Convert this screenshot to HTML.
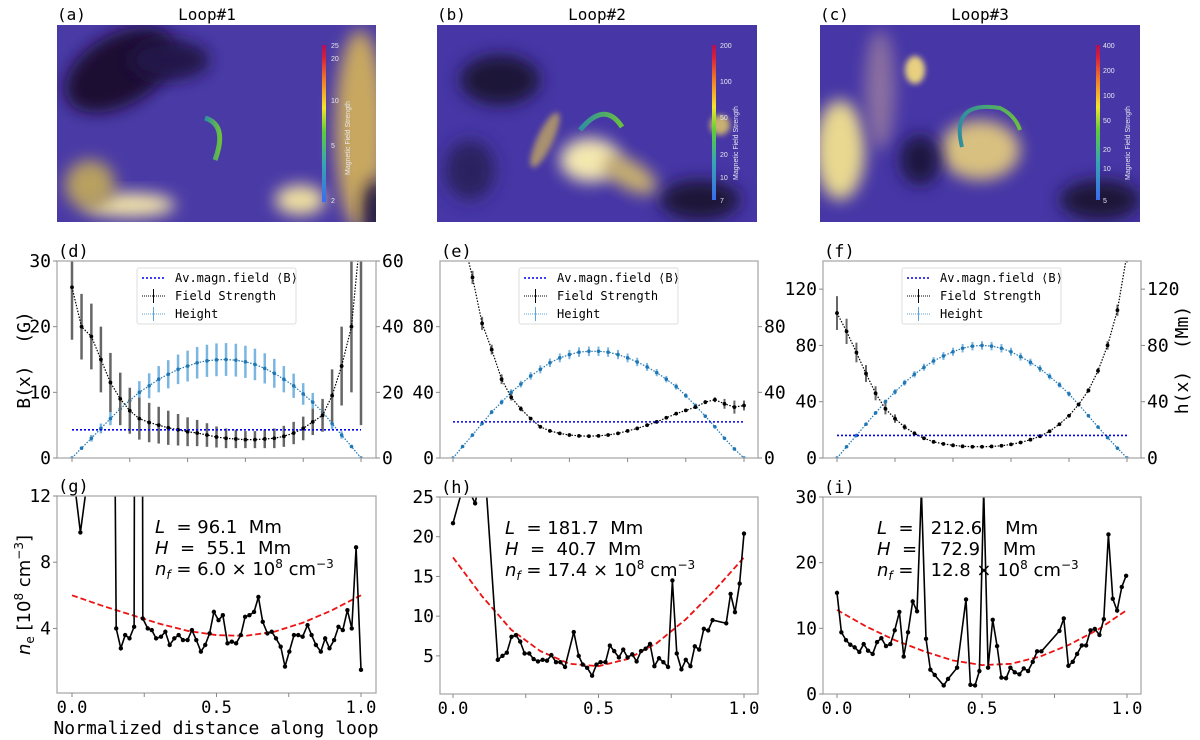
<!DOCTYPE html>
<html><head><meta charset="utf-8">
<style>
html,body{margin:0;padding:0;background:#fff;}
svg{display:block;font-family:"DejaVu Sans Mono","Liberation Mono",monospace;}
text{white-space:pre;}
</style></head>
<body>
<svg id="fig" width="1200" height="740" viewBox="0 0 1200 740" xmlns="http://www.w3.org/2000/svg">
<defs>
<filter id="bl" x="-50%" y="-50%" width="200%" height="200%"><feGaussianBlur stdDeviation="8"/></filter>
<filter id="bl2" x="-50%" y="-50%" width="200%" height="200%"><feGaussianBlur stdDeviation="3"/></filter>
<linearGradient id="cb" x1="0" y1="1" x2="0" y2="0">
<stop offset="0" stop-color="#3b6cf0"/><stop offset="0.25" stop-color="#36a7b0"/><stop offset="0.45" stop-color="#5fcc3a"/><stop offset="0.6" stop-color="#f2e52a"/><stop offset="0.78" stop-color="#f07a2a"/><stop offset="0.92" stop-color="#d8203a"/><stop offset="1" stop-color="#b0105a"/>
</linearGradient>
<linearGradient id="tube" x1="0" y1="0" x2="1" y2="0"><stop offset="0" stop-color="#2e8ea0"/><stop offset="1" stop-color="#6abf40"/></linearGradient>
<clipPath id="ca"><rect x="57" y="25" width="319" height="197"/></clipPath>
<clipPath id="cbimg"><rect x="437" y="25" width="320" height="197"/></clipPath>
<clipPath id="cc"><rect x="820" y="25" width="320" height="197"/></clipPath>
</defs>

<g clip-path="url(#ca)">
<rect x="57" y="25" width="319" height="197" fill="#4a3aa6"/>
<ellipse cx="120" cy="70" rx="60" ry="35" fill="#1a1030" filter="url(#bl)" transform="rotate(-30 120 70)"/>
<ellipse cx="170" cy="60" rx="40" ry="20" fill="#22184a" filter="url(#bl)"/>
<ellipse cx="360" cy="130" rx="25" ry="100" fill="#c8a860" filter="url(#bl)"/>
<ellipse cx="300" cy="200" rx="25" ry="15" fill="#f0e0a0" filter="url(#bl)"/>
<ellipse cx="130" cy="205" rx="45" ry="12" fill="#f4e6a8" filter="url(#bl)"/>
<ellipse cx="90" cy="185" rx="25" ry="25" fill="#b8a060" filter="url(#bl)"/>
<ellipse cx="375" cy="210" rx="12" ry="30" fill="#201840" filter="url(#bl)"/>
<path d="M205,118 Q228,125 215,160" fill="none" stroke="url(#tube)" stroke-width="5"/>
<rect x="322" y="45" width="4" height="157" fill="url(#cb)"/>
<g font-family="Liberation Sans,sans-serif" font-size="7" fill="#e8e8f0">
<text x="331" y="48">25</text><text x="331" y="61">20</text><text x="331" y="103">10</text><text x="331" y="148">5</text><text x="331" y="203">2</text>
<text transform="translate(350,175) rotate(-90)">Magnetic Field Strength</text></g>
</g>
<g clip-path="url(#cbimg)">
<rect x="437" y="25" width="320" height="197" fill="#4636a6"/>
<ellipse cx="500" cy="80" rx="40" ry="25" fill="#1c1438" filter="url(#bl)"/>
<ellipse cx="700" cy="200" rx="40" ry="20" fill="#1c1438" filter="url(#bl)"/>
<ellipse cx="470" cy="170" rx="25" ry="30" fill="#2a2060" filter="url(#bl)"/>
<ellipse cx="590" cy="160" rx="30" ry="22" fill="#f4e8b0" filter="url(#bl)"/>
<ellipse cx="630" cy="175" rx="30" ry="14" fill="#c8b070" filter="url(#bl)" transform="rotate(30 630 175)"/>
<ellipse cx="545" cy="140" rx="8" ry="30" fill="#a89070" filter="url(#bl2)" transform="rotate(25 545 140)"/>
<ellipse cx="720" cy="125" rx="10" ry="10" fill="#c8b070" filter="url(#bl2)"/>
<path d="M580,130 Q605,100 622,127" fill="none" stroke="url(#tube)" stroke-width="5"/>
<rect x="712" y="45" width="4" height="155" fill="url(#cb)"/>
<g font-family="Liberation Sans,sans-serif" font-size="7" fill="#e8e8f0">
<text x="720" y="48">200</text><text x="720" y="84">100</text><text x="720" y="120">50</text><text x="720" y="157">20</text><text x="720" y="180">10</text><text x="720" y="203">7</text>
<text transform="translate(738,180) rotate(-90)">Magnetic Field Strength</text></g>
</g>
<g clip-path="url(#cc)">
<rect x="820" y="25" width="320" height="197" fill="#4636a6"/>
<ellipse cx="840" cy="150" rx="25" ry="50" fill="#e8d890" filter="url(#bl)"/>
<ellipse cx="880" cy="90" rx="15" ry="60" fill="#8a70a0" filter="url(#bl)"/>
<ellipse cx="980" cy="150" rx="40" ry="30" fill="#d8c080" filter="url(#bl)"/>
<ellipse cx="915" cy="70" rx="10" ry="14" fill="#e8d080" filter="url(#bl2)"/>
<ellipse cx="1100" cy="200" rx="40" ry="20" fill="#1c1438" filter="url(#bl)"/>
<ellipse cx="920" cy="160" rx="20" ry="25" fill="#1e1640" filter="url(#bl)"/>
<path d="M962,147 Q950,100 1000,108 Q1015,115 1020,130" fill="none" stroke="url(#tube)" stroke-width="4"/>
<rect x="1096" y="45" width="4" height="155" fill="url(#cb)"/>
<g font-family="Liberation Sans,sans-serif" font-size="7" fill="#e8e8f0">
<text x="1103" y="48">400</text><text x="1103" y="73">200</text><text x="1103" y="98">100</text><text x="1103" y="123">50</text><text x="1103" y="152">20</text><text x="1103" y="171">10</text><text x="1103" y="203">5</text>
<text transform="translate(1130,180) rotate(-90)">Magnetic Field Strength</text></g>
</g>
<g font-size="16" fill="#000">
<text x="57" y="20">(a)</text>
<text x="207" y="20" text-anchor="middle">Loop#1</text>
<text x="437" y="20">(b)</text>
<text x="597" y="20" text-anchor="middle">Loop#2</text>
<text x="820" y="20">(c)</text>
<text x="980" y="20" text-anchor="middle">Loop#3</text>
</g>
<g id="plots"></g>
</svg>
<script>
const bX = [0,0.033,0.067,0.1,0.133,0.167,0.2,0.233,0.267,0.3,0.333,0.367,0.4,0.433,0.467,0.5,0.533,0.567,0.6,0.633,0.667,0.7,0.733,0.767,0.8,0.833,0.867,0.9,0.933,0.967,1.0];
const dB = [26,20,18.5,15,11.5,9,7.2,6,5.4,5,4.6,4.3,4,3.8,3.5,3.2,3.0,2.9,2.8,2.8,2.9,3.0,3.3,3.8,4.5,5.5,6.5,9.5,14,20,35];
const dBerr = [8,5,5,5,4.5,4,3.5,3.2,3,2.8,2.6,2.4,2.2,2,1.8,1.6,1.5,1.4,1.3,1.3,1.4,1.5,1.6,1.7,1.8,2,2.5,4,6,10,30];
const dH = [0,3,6,9,12,15,17.5,20,22,24,25.5,27,28,29,29.6,29.9,30,29.8,29.3,28.5,27.3,25.8,24,22,19.5,17,14,10.5,7,3.5,0];
const dHerr = [0,0.5,1,1.5,2,2.5,3,3.4,3.8,4,4.3,4.5,4.7,4.8,4.9,5,5,5,4.9,4.8,4.6,4.4,4,3.7,3.3,2.8,2.3,1.7,1.1,0.5,0];
const dAvg = 4.3;
const eB = [160,135,110,82,66,48,37,30,24,19,16.5,15,14,13.5,13.3,13.5,14,15,16.5,18,20,22,24.5,27,29,31,34,35.5,33,31,32];
const eBerr = [4,4,4,4,3,3,2,1.5,1,1,0.8,0.6,0.5,0.5,0.5,0.5,0.5,0.5,0.5,0.5,0.6,0.6,0.7,0.8,0.9,1,1.2,1.5,3,4,3];
const eH = [0,7,14,21,28,34,40,45,50,54,58,61,63,64.5,65,65,64.5,63,61,58.5,55.5,52,48,43.5,38,32,25.5,19,12,5.5,0];
const eHerr = [0,0.4,0.7,1,1.3,1.6,1.9,2.1,2.3,2.5,2.6,2.7,2.8,2.9,2.9,2.9,2.9,2.8,2.7,2.6,2.4,2.2,2,1.8,1.5,1.2,1,0.8,0.5,0.3,0];
const eAvg = 22;
const fB = [103,90,75,60,46,35,28,22,17.5,14,11.5,10,9,8.3,8,8,8.2,8.7,9.7,11,13,15.5,19,24,30,38,48,62,80,105,145];
const fBerr = [12,9,7,6,5,4,3,2,1.5,1,0.8,0.6,0.5,0.5,0.5,0.5,0.5,0.5,0.5,0.5,0.6,0.7,0.8,1,1.2,1.4,1.6,2,3,4,6];
const fH = [0,8,16,24,32,40,47,53.5,59.5,64.5,69,72.5,75.5,78,79.5,80,79.5,78,75.5,72,68,63.5,58,52,45.5,38,30,22,14.5,7,0];
const fHerr = [0,0.4,0.7,1,1.3,1.6,1.9,2.1,2.3,2.5,2.7,2.8,2.9,3,3,3,3,3,2.9,2.8,2.6,2.4,2.2,2,1.7,1.4,1.1,0.8,0.5,0.3,0];
const fAvg = 16;

const gX = [0,0.029,0.069,0.138,0.153,0.169,0.184,0.199,0.215,0.219,0.242,0.245,0.262,0.276,0.291,0.308,0.323,0.338,0.354,0.369,0.384,0.400,0.415,0.430,0.446,0.461,0.476,0.491,0.507,0.522,0.538,0.553,0.568,0.584,0.599,0.614,0.630,0.645,0.660,0.676,0.691,0.706,0.722,0.737,0.752,0.768,0.783,0.798,0.815,0.829,0.844,0.861,0.876,0.891,0.907,0.922,0.937,0.953,0.968,0.983,1.0];
const gN = [14,9.8,15,40,4.0,2.8,3.6,3.4,4.1,40,40,4.6,4.0,3.9,3.4,3.5,3.8,3.0,3.4,3.6,3.3,3.3,3.9,3.3,2.6,3.0,3.7,5.0,4.5,4.8,3.1,3.2,3.1,3.6,4.7,4.8,5.0,5.9,4.4,3.7,3.8,3.4,2.9,1.7,2.6,3.6,3.6,3.5,4.2,3.6,3.0,2.6,3.4,2.8,3.3,4.1,3.9,5.1,4.0,8.9,1.5];
const fitX = [0,0.1,0.2,0.3,0.4,0.5,0.6,0.7,0.8,0.9,1.0];
const gFit = [6.0,5.4,4.85,4.3,3.85,3.6,3.55,3.8,4.35,5.1,6.0];
const hX = [0,0.04,0.076,0.107,0.154,0.170,0.185,0.201,0.216,0.231,0.246,0.262,0.277,0.292,0.308,0.323,0.338,0.354,0.369,0.385,0.415,0.432,0.446,0.461,0.478,0.493,0.507,0.524,0.539,0.554,0.570,0.585,0.600,0.616,0.631,0.646,0.662,0.677,0.692,0.708,0.723,0.739,0.754,0.769,0.785,0.800,0.816,0.831,0.846,0.862,0.877,0.892,0.939,0.954,0.969,0.985,1.0];
const hN = [21.7,27,24.2,30,4.5,5.0,5.4,7.4,7.6,6.8,5.3,5.3,4.6,4.3,4.5,4.4,5.1,4.2,4.2,3.6,8.0,5.0,3.9,3.5,2.5,3.9,4.2,4.2,6.3,5.6,4.8,5.8,4.8,5.2,4.3,5.6,5.9,6.5,3.7,4.7,4.2,3.6,14.5,5.3,3.3,4.5,3.7,6.2,5.8,8.4,8.2,9.5,9.1,12.8,10.5,14.1,20.4];
const hFit = [17.4,12.5,8.3,5.6,4.0,3.7,4.6,6.6,9.6,13.3,17.4];
const iX = [0,0.015,0.031,0.046,0.061,0.077,0.092,0.107,0.123,0.138,0.153,0.169,0.184,0.199,0.215,0.230,0.245,0.261,0.276,0.291,0.307,0.322,0.337,0.368,0.383,0.414,0.445,0.460,0.476,0.491,0.506,0.521,0.537,0.552,0.567,0.583,0.598,0.613,0.629,0.644,0.659,0.675,0.690,0.705,0.767,0.782,0.798,0.813,0.828,0.844,0.859,0.874,0.889,0.905,0.920,0.936,0.951,0.966,0.982,0.997];
const iN = [15.4,9.4,8.2,7.5,7.1,6.4,7.6,6.6,6.1,7.9,8.5,7.3,7.6,9.7,12.5,5.7,9.4,14.1,12.6,31,8.4,3.7,2.9,1.3,2.3,4.0,14.4,1.4,1.3,3.5,31,4.0,11.3,7.3,2.5,2.4,4.0,3.3,3.0,3.9,3.5,4.9,6.5,6.5,9.6,11.5,4.3,4.9,6.1,7.4,7.4,9.7,9.9,9.0,11.4,24.3,14.5,12.7,16.3,18.0];
const iFit = [12.8,10.3,8.2,6.5,5.1,4.4,4.6,5.7,7.5,9.8,12.8];

const NS = "http://www.w3.org/2000/svg";
const root = document.getElementById('plots');
function mk(tag, attrs, parent) {
  const e = document.createElementNS(NS, tag);
  for (const k in attrs) e.setAttribute(k, attrs[k]);
  (parent || root).appendChild(e);
  return e;
}
let clipId = 0;
function axes(p) {
  const sx = v => p.x0 + v * (p.x1 - p.x0);
  const sy = v => p.bot - (v - p.ymin) / (p.ymax - p.ymin) * (p.bot - p.top);
  const sy2 = p.ymax2 !== undefined ? (v => p.bot - (v - p.ymin2) / (p.ymax2 - p.ymin2) * (p.bot - p.top)) : null;
  clipId++;
  const cp = mk('clipPath', {id: 'pc' + clipId});
  mk('rect', {x: p.left, y: p.top, width: p.right - p.left, height: p.bot - p.top}, cp);
  const g = mk('g', {'clip-path': 'url(#pc' + clipId + ')'});
  
  
  return {sx, sy, sy2, g};
}
function frame(p, sx, sy, sy2) {
  const fr = mk('rect', {x: p.left, y: p.top, width: p.right - p.left, height: p.bot - p.top, fill: 'none', stroke: '#aaa', 'stroke-width': 1.3});
  
  
  p.xticks.forEach(t => {
    mk('line', {x1: sx(t), x2: sx(t), y1: p.bot, y2: p.bot + 4, stroke: '#888'});
  });
  (p.xlabels || []).forEach(t => {
    const tx = mk('text', {x: sx(t), y: p.bot + 20, 'text-anchor': 'middle', 'font-size': 17});
    tx.textContent = t.toFixed(1);
    
    
  });
  p.yticks.forEach(t => {
    mk('line', {x1: p.left - 4, x2: p.left, y1: sy(t), y2: sy(t), stroke: '#888'});
    const tx = mk('text', {x: p.left - 6, y: sy(t) + 6, 'text-anchor': 'end', 'font-size': 18});
    tx.textContent = t;
    
    
  });
  (p.yticks2 || []).forEach(t => {
    mk('line', {x1: p.right, x2: p.right + 4, y1: sy2(t), y2: sy2(t), stroke: '#888'});
    const tx = mk('text', {x: p.right + 6, y: sy2(t) + 6, 'text-anchor': 'start', 'font-size': 18});
    tx.textContent = t;
    
    
  });
  const lt = mk('text', {x: p.left + 1, y: p.top - 4, 'font-size': 17});
  lt.textContent = p.letter;
  
  
}
function pts(xs, ys, sx, sy) { return xs.map((x, i) => sx(x).toFixed(1) + ',' + sy(ys[i]).toFixed(1)).join(' '); }

function middle(p, B, Berr, H, Herr, avg, bw) {
  const {sx, sy, sy2, g} = axes(p);
  bX.forEach((x, i) => {
    const l = mk('line', {x1: sx(x), x2: sx(x), y1: sy2(H[i] - Herr[i]), y2: sy2(H[i] + Herr[i]), stroke: '#7ab6e2', 'stroke-width': bw}, g);
    
    
  });
  const hl = mk('polyline', {points: pts(bX, H, sx, sy2), fill: 'none', stroke: '#1f77b4', 'stroke-width': 1.2, 'stroke-dasharray': '1.5,1.5'}, g);
  
  
  bX.forEach((x, i) => {
    const c = mk('circle', {cx: sx(x), cy: sy2(H[i]), r: 1.8, fill: '#1f77b4'}, g);
    
    
  });
  bX.forEach((x, i) => {
    const l = mk('line', {x1: sx(x), x2: sx(x), y1: sy(B[i] - Berr[i]), y2: sy(B[i] + Berr[i]), stroke: '#666', 'stroke-width': bw}, g);
    
    
  });
  const bl = mk('polyline', {points: pts(bX, B, sx, sy), fill: 'none', stroke: '#000', 'stroke-width': 1.2, 'stroke-dasharray': '1.5,1.5'}, g);
  
  
  bX.forEach((x, i) => {
    const c = mk('circle', {cx: sx(x), cy: sy(B[i]), r: 1.9, fill: '#000'}, g);
    
    
  });
  const av = mk('line', {x1: sx(0), x2: sx(1), y1: sy(avg), y2: sy(avg), stroke: '#0000ee', 'stroke-width': 1.6, 'stroke-dasharray': '2,2'}, g);
  
  
  frame(p, sx, sy, sy2);
  const lg = mk('g', {});
  
  
  const lx = p.legX, ly = p.top + 7;
  mk('rect', {x: lx, y: ly, width: 159, height: 56, fill: '#fff', stroke: '#ddd', rx: 2}, lg);
  mk('line', {x1: lx + 5, x2: lx + 28, y1: ly + 10, y2: ly + 10, stroke: '#0000ee', 'stroke-width': 1.6, 'stroke-dasharray': '2,2'}, lg);
  mk('line', {x1: lx + 5, x2: lx + 28, y1: ly + 28, y2: ly + 28, stroke: '#000', 'stroke-dasharray': '1,1'}, lg);
  mk('line', {x1: lx + 16.5, x2: lx + 16.5, y1: ly + 21, y2: ly + 35, stroke: '#000'}, lg);
  mk('line', {x1: lx + 5, x2: lx + 28, y1: ly + 46, y2: ly + 46, stroke: '#5fa6d8', 'stroke-dasharray': '1,1'}, lg);
  mk('line', {x1: lx + 16.5, x2: lx + 16.5, y1: ly + 39, y2: ly + 53, stroke: '#5fa6d8'}, lg);
  const items = ['Av.magn.field \u27E8B\u27E9', 'Field Strength', 'Height'];
  items.forEach((s, i) => {
    const t = mk('text', {x: lx + 38, y: ly + 14 + i * 18, 'font-size': 12}, lg);
    t.textContent = s;
    
    
  });
}
function bottom(p, X, N, fit, ann) {
  const {sx, sy, g} = axes(p);
  const fl = mk('polyline', {points: pts(fitX, fit, sx, sy), fill: 'none', stroke: '#ee1111', 'stroke-width': 1.8, 'stroke-dasharray': '6,3'}, g);
  
  
  const dl = mk('polyline', {points: pts(X, N, sx, sy), fill: 'none', stroke: '#000', 'stroke-width': 1.6}, g);
  
  
  X.forEach((x, i) => {
    const c = mk('circle', {cx: sx(x), cy: sy(N[i]), r: 2.2, fill: '#000'}, g);
    
    
  });
  frame(p, sx, sy, null);
  const tg = mk('g', {'font-family': 'DejaVu Sans,sans-serif', 'font-size': 18});
  
  
  const t1 = mk('text', {x: ann.x, y: p.top + 37}, tg);
  t1.innerHTML = '<tspan font-style="italic">L</tspan> ' + ann.L;
  const t2 = mk('text', {x: ann.x, y: p.top + 58}, tg);
  t2.innerHTML = '<tspan font-style="italic">H</tspan> ' + ann.H;
  const t3 = mk('text', {x: ann.x, y: p.top + 79}, tg);
  t3.innerHTML = '<tspan font-style="italic">n</tspan><tspan font-style="italic" font-size="12" dy="4">f</tspan><tspan dy="-4"> ' + ann.n + ' \u00D7 10</tspan><tspan font-size="12" dy="-7">8</tspan><tspan dy="7"> cm</tspan><tspan font-size="12" dy="-7">\u22123</tspan>';
}

middle({name:'panel-d', letter:'(d)', left:57, right:376, top:261, bot:458, x0:72, x1:361, ymin:0, ymax:30, ymin2:0, ymax2:60,
  xticks:[0,0.2,0.4,0.6,0.8,1], yticks:[0,10,20,30], yticks2:[0,20,40,60], legX:137}, dB, dBerr, dH, dHerr, dAvg, 2.5);
middle({name:'panel-e', letter:'(e)', left:440, right:758, top:261, bot:458, x0:453, x1:744, ymin:0, ymax:120, ymin2:0, ymax2:120,
  xticks:[0,0.2,0.4,0.6,0.8,1], yticks:[0,40,80], yticks2:[0,40,80], legX:519}, eB, eBerr, eH, eHerr, eAvg, 2);
middle({name:'panel-f', letter:'(f)', left:823, right:1141, top:261, bot:458, x0:837, x1:1127, ymin:0, ymax:140, ymin2:0, ymax2:140,
  xticks:[0,0.2,0.4,0.6,0.8,1], yticks:[0,40,80,120], yticks2:[0,40,80,120], legX:902}, fB, fBerr, fH, fHerr, fAvg, 2);

bottom({name:'panel-g', letter:'(g)', left:57, right:376, top:496, bot:693, x0:72, x1:361, ymin:0.1, ymax:12,
  xticks:[0,0.25,0.5,0.75,1], xlabels:[0,0.5,1], yticks:[4,8,12]}, gX, gN, gFit, {x:155, L:' = 96.1  Mm', H:' =  55.1  Mm', n:'= 6.0'});
bottom({name:'panel-h', letter:'(h)', left:440, right:758, top:497, bot:694, x0:453, x1:744, ymin:0.2, ymax:25,
  xticks:[0,0.25,0.5,0.75,1], xlabels:[0,0.5,1], yticks:[5,10,15,20,25]}, hX, hN, hFit, {x:505, L:' = 181.7  Mm', H:' =  40.7  Mm', n:'= 17.4'});
bottom({name:'panel-i', letter:'(i)', left:823, right:1141, top:497, bot:694, x0:837, x1:1127, ymin:0, ymax:30,
  xticks:[0,0.25,0.5,0.75,1], xlabels:[0,0.5,1], yticks:[0,10,20,30]}, iX, iN, iFit, {x:877, L:' =   212.6    Mm', H:' =    72.9    Mm', n:'=   12.8'});

const yl = mk('text', {transform: 'translate(30,360) rotate(-90)', 'text-anchor': 'middle', 'font-size': 18});
yl.textContent = 'B(x)  (G)';


const yr = mk('text', {transform: 'translate(1188,360) rotate(-90)', 'text-anchor': 'middle', 'font-size': 18});
yr.textContent = 'h(x)  (Mm)';


const yn = mk('text', {transform: 'translate(30,595) rotate(-90)', 'text-anchor': 'middle', 'font-size': 18, 'font-family': 'DejaVu Sans,sans-serif'});
yn.innerHTML = '<tspan font-style="italic">n</tspan><tspan font-size="12" dy="4">e</tspan><tspan dy="-4"> [10</tspan><tspan font-size="12" dy="-7">8</tspan><tspan dy="7"> cm</tspan><tspan font-size="12" dy="-7">\u22123</tspan><tspan dy="7">]</tspan>';


const xl = mk('text', {x: 216, y: 734, 'text-anchor': 'middle', 'font-size': 18});
xl.textContent = 'Normalized distance along loop';


</script>
</body></html>
